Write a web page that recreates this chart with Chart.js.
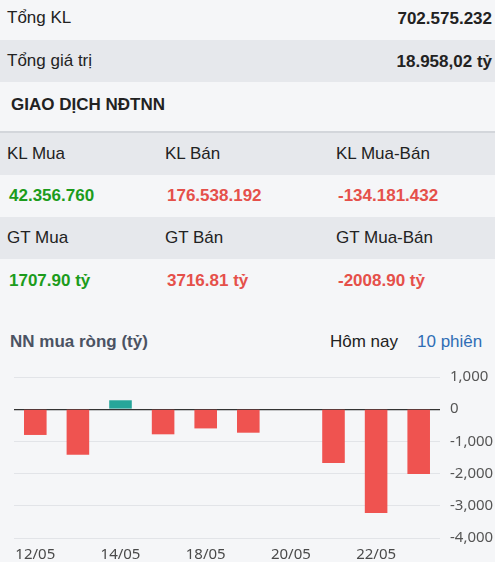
<!DOCTYPE html>
<html>
<head>
<meta charset="utf-8">
<script src="https://cdn.jsdelivr.net/npm/chart.js@4"></script>
<style>
  html, body { margin: 0; padding: 0; }
  body {
    width: 495px; height: 562px; overflow: hidden; position: relative;
    background: #f5f6f8; font-family: "Liberation Sans", Arial, sans-serif; color: #222;
  }
  .row { position: absolute; left: 0; width: 495px; }
  .gray { background: #e6e8ec; }
  .t { position: absolute; font-size: 17px; line-height: 20px; white-space: nowrap; }
  .b { font-weight: bold; }
  .green { color: #1c9c1c; }
  .red { color: #e5504a; }
  #chartBox { position: absolute; left: 0; top: 358px; width: 495px; height: 204px; }
</style>
</head>
<body>
  <div class="row" style="top:0;height:40px;">
    <span class="t" style="left:7px;top:8px;">Tổng KL</span>
    <span class="t b" style="right:3px;top:9px;">702.575.232</span>
  </div>
  <div class="row gray" style="top:40px;height:42px;">
    <span class="t" style="left:7px;top:11px;">Tổng giá trị</span>
    <span class="t b" style="right:3px;top:12px;">18.958,02 tỷ</span>
  </div>
  <div class="row" style="top:82px;height:50px;">
    <span class="t b" style="left:11px;top:13px;font-size:17px;">GIAO DỊCH NĐTNN</span>
  </div>
  <div class="row" style="top:131px;height:2px;background:#d3d6db;"></div>
  <div class="row gray" style="top:133px;height:42px;">
    <span class="t" style="left:7px;top:11px;">KL Mua</span>
    <span class="t" style="left:165px;top:11px;">KL Bán</span>
    <span class="t" style="left:336px;top:11px;">KL Mua-Bán</span>
  </div>
  <div class="row" style="top:175px;height:42px;">
    <span class="t b green" style="left:9px;top:11px;">42.356.760</span>
    <span class="t b red" style="left:167px;top:11px;">176.538.192</span>
    <span class="t b red" style="left:338px;top:11px;">-134.181.432</span>
  </div>
  <div class="row gray" style="top:217px;height:42px;">
    <span class="t" style="left:7px;top:11px;">GT Mua</span>
    <span class="t" style="left:165px;top:11px;">GT Bán</span>
    <span class="t" style="left:336px;top:11px;">GT Mua-Bán</span>
  </div>
  <div class="row" style="top:259px;height:42px;">
    <span class="t b green" style="left:9px;top:12px;">1707.90 tỷ</span>
    <span class="t b red" style="left:167px;top:12px;">3716.81 tỷ</span>
    <span class="t b red" style="left:338px;top:12px;">-2008.90 tỷ</span>
  </div>
  <span class="t b" style="left:10px;top:332px;color:#4b5363;">NN mua ròng (tỷ)</span>
  <span class="t" style="left:330px;top:332px;">Hôm nay</span>
  <span class="t" style="left:417px;top:332px;color:#2f6db5;">10 phiên</span>

  <div id="chartBox"><canvas id="nnChart"></canvas></div>

<script>
// Data for the chart
const dates = ['12/05', '13/05', '14/05', '15/05', '18/05', '19/05', '20/05', '21/05', '22/05', '23/05'];
const netBuy = [-800, -1415, 277, -780, -597, -730, 0, -1673, -3222, -2008.9];
const yTicks = [1000, 0, -1000, -2000, -3000, -4000];

const ctx = document.getElementById('nnChart').getContext('2d');
new Chart(ctx, {
    type: 'bar',
    data: {
        labels: dates,
        datasets: [{
            data: netBuy,
            backgroundColor: netBuy.map(v => v >= 0 ? '#26a69a' : '#ef5350'),
            barPercentage: 0.53,
            categoryPercentage: 1
        }]
    },
    options: {
        responsive: true,
        maintainAspectRatio: false,
        animation: false,
        layout: { padding: { left: 14, top: 14, bottom: 0 } },
        plugins: { legend: { display: false }, tooltip: { enabled: false } },
        scales: {
            x: {
                afterFit: scale => { scale.height = 24; },
                grid: { display: false },
                border: { display: false },
                ticks: {
                    autoSkip: false,
                    maxRotation: 0,
                    padding: 0,
                    color: '#4a4a4a',
                    font: { family: 'Noto Sans', size: 15 },
                    callback: function (val, i) { return i % 2 === 0 ? dates[i] : ''; }
                }
            },
            y: {
                position: 'right',
                min: Math.min(...yTicks),
                max: Math.max(...yTicks),
                afterFit: scale => { scale.width = 55; },
                afterBuildTicks: scale => { scale.ticks = yTicks.map(v => ({ value: v })); },
                grid: {
                    drawTicks: false,
                    color: c => c.tick && c.tick.value === 0 ? '#333333' : '#e2e4e8',
                    lineWidth: c => c.tick && c.tick.value === 0 ? 1.2 : 1
                },
                border: { display: false },
                ticks: {
                    padding: 10,
                    color: '#555',
                    font: { family: 'Noto Sans', size: 15 },
                    callback: v => v.toLocaleString('en-US')
                }
            }
        }
    }
});
</script>
</body>
</html>
